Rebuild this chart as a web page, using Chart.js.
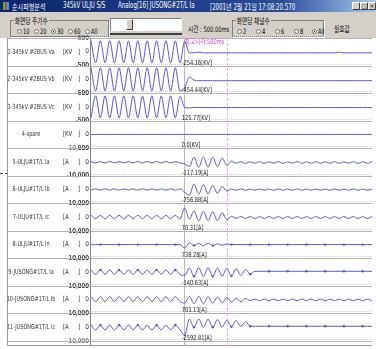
<!DOCTYPE html>
<html>
<head>
<meta charset="utf-8">
<script src="https://cdn.jsdelivr.net/npm/chart.js@4.4.1/dist/chart.umd.min.js"></script>
<style>
  body { margin:0; width:376px; height:349px; overflow:hidden; background:#fff; position:relative;
         font-family:"DejaVu Sans Condensed","Noto Sans CJK KR",sans-serif; }
  .n { transform:scaleX(0.76); transform-origin:0 50%; }
  #title { position:absolute; left:0; top:0; width:376px; height:12px;
           background:linear-gradient(90deg,#0a246a 0%,#2a4c9c 75%,#a6caf0 100%); color:#fff; font-size:8px; }
  #title span { position:absolute; top:1px; white-space:nowrap; }
  .ico { position:absolute; left:3px; top:2px; width:6px; height:8px;
         background:linear-gradient(90deg,#2c2 0 33%,#e33 33% 66%,#39f 66%); }
  .btn { position:absolute; top:2px; width:8px; height:8px; background:#d4d0c8; color:#000;
         border:1px solid; border-color:#fff #404040 #404040 #fff; box-sizing:border-box;
         font-size:6px; line-height:6px; text-align:center; }
  #ctrl { position:absolute; left:0; top:12px; width:376px; height:26px; background:#d4d0c8; font-size:7.5px; color:#000; }
  #ctrl span { position:absolute; white-space:nowrap; }
  .grp { position:absolute; top:8px; height:15px; border:1px solid #808080; box-shadow:1px 1px 0 #fff; }
  .leg { background:#d4d0c8; padding:0 1px; top:3px; }
  .r { position:absolute; top:17px; width:5px; height:5px; border-radius:50%; background:#fff;
       border:1px solid #707070; box-sizing:border-box; }
  .r.on::after { content:""; position:absolute; left:1px; top:1px; width:1px; height:1px; background:#000; }
  .slide { position:absolute; left:110px; top:6px; width:72px; height:13px; background:#fff;
           border:1px solid; border-color:#808080 #fff #fff #808080; box-sizing:border-box; }
  .thumb { position:absolute; left:126px; top:7px; width:7px; height:11px; background:#d4d0c8;
           border:1px solid; border-color:#fff #404040 #404040 #fff; box-sizing:border-box; }
  .groove { position:absolute; left:110px; top:21px; width:72px; height:2px; background:#404040; }
  #wrap { position:absolute; left:0; top:30px; width:376px; height:318px; }
  .tick { position:absolute; left:0; top:173px; width:8px; border-top:1px dashed #444; }
</style>
</head>
<body>
<div id="title">
  <div class="ico"></div>
  <span class="n" style="left:12px">순시파형분석</span>
  <span class="n" style="left:63px">345kV ULJU S/S</span>
  <span class="n" style="left:118px">Analog[16] JUSONG#2T/L Ia</span>
  <span class="n" style="left:210px">[2001년 2월 21일 17:08:20.570</span>
  <div class="btn" style="left:352px">_</div>
  <div class="btn" style="left:360px">□</div>
  <div class="btn" style="left:368px">×</div>
</div>
<div id="ctrl">
  <div class="grp" style="left:10px;width:97px"></div>
  <span class="leg n" style="left:14px">화면당 주기수</span>
  <div class="r" style="left:17px"></div><span class="n" style="left:23px;top:15px">10</span>
  <div class="r" style="left:34px"></div><span class="n" style="left:40px;top:15px">20</span>
  <div class="r on" style="left:51px"></div><span class="n" style="left:57px;top:15px">30</span>
  <div class="r" style="left:68px"></div><span class="n" style="left:74px;top:15px">60</span>
  <div class="r" style="left:85px"></div><span class="n" style="left:91px;top:15px">All</span>
  <div class="slide"></div><div class="thumb"></div><div class="groove"></div>
  <span class="n" style="left:188px;top:11px">시간 : 500.00ms</span>
  <div class="grp" style="left:232px;width:90px"></div>
  <span class="leg n" style="left:236px">화면당 채널수</span>
  <div class="r" style="left:237px"></div><span class="n" style="left:243px;top:15px">2</span>
  <div class="r" style="left:256px"></div><span class="n" style="left:262px;top:15px">4</span>
  <div class="r" style="left:275px"></div><span class="n" style="left:281px;top:15px">6</span>
  <div class="r" style="left:294px"></div><span class="n" style="left:300px;top:15px">8</span>
  <div class="r on" style="left:312px"></div><span class="n" style="left:318px;top:15px">All</span>
  <span class="n" style="left:334px;top:11px">실효값</span>
</div>
<div class="tick"></div>
<div id="wrap"><canvas id="c" width="376" height="318"></canvas></div>

<script>
// time of each sample, ms (half-cycle steps of a 60 Hz signal)
const TIME = [0, 8.3, 16.7, 25, 33.3, 41.7, 50, 58.3, 66.7, 75,
  83.3, 91.7, 100, 108.3, 116.7, 125, 133.3, 141.7, 150, 158.3,
  166.7, 175, 183.3, 191.7, 200, 208.3, 216.7, 225, 233.3, 241.7,
  250, 258.3, 266.7, 275, 283.3, 291.7, 300, 308.3, 316.7, 325,
  333.3, 341.7, 350, 358.3, 366.7, 375, 383.3, 391.7, 400, 408.3,
  416.7, 425, 433.3, 441.7, 450, 458.3, 466.7, 475, 483.3, 491.7,
  500];

const NAMES = ["1-345kV #2BUS Va", "2-345kV #2BUS Vb", "3-345kV #2BUS Vc", "4-spare",
  "5-ULJU#1T/L Ia", "6-ULJU#1T/L Ib", "7-ULJU#1T/L Ic", "8-ULJU#1T/L In",
  "9-JUSONG#1T/L Ia", "10-JUSONG#1T/L Ib", "11-JUSONG#1T/L Ic"];
const UNITS  = ["KV", "KV", "KV", "KV", "A", "A", "A", "A", "A", "A", "A"];
const RANGES = [500, 500, 500, 500, 10000, 10000, 10000, 10000, 10000, 10000, 10000];
const CURSOR_VALUES = ["-254.16", "-454.44", "125.77", "0.0", "-117.19", "-756.88",
  "70.31", "738.28", "-140.63", "703.13", "-2592.81"];
const FAULT_MS = 165;   // grey cursor
const PEAK_MS  = 242;   // 최고시각 cursor
const PEAK_TEXT = "최고시각:500ms";

const VA = [400, -400, 400, -400, 400, -400, 400, -400, 400, -400,
  400, -400, 400, -400, 400, -400, 400, -400, 400, -400,
  380, -40, -40, -10, -40, -40, -40, -40, -40, -40,
  -40, -40, -40, -40, -40, -40, -40, -40, -40, -40,
  -40, -40, -40, -40, -40, -40, -40, -40, -40, -40,
  -40, -40, -40, -15, -40, -40, -40, -40, -40, -40,
  -40];
const VB = [420, -420, 420, -420, 420, -420, 420, -420, 420, -420,
  420, -420, 420, -420, 420, -420, 420, -420, 420, -420,
  -300, 80, -30, -50, -50, -50, -50, -50, -50, -50,
  -50, -50, -50, -50, -50, -50, -50, -50, -50, -50,
  -50, -50, -50, -50, -50, -50, -50, -50, -50, -50,
  -50, -50, -50, -50, -50, -50, -50, -50, -50, -50,
  -50];
const VC = [-400, 400, -400, 400, -400, 400, -400, 400, -400, 400,
  -400, 400, -400, 400, -400, 400, -400, 400, -400, 380,
  -20, -40, -20, -25, -25, -25, -25, -25, -25, -25,
  -25, -25, -25, -25, -25, -25, -25, -25, -25, -25,
  -25, -25, -25, -25, -25, -25, -25, -25, -25, -25,
  -25, -25, -25, -25, -25, -25, -25, -25, -25, -25,
  -25];
const SPARE = [0, 0, 0, 0, 0, 0, 0, 0, 0, 0,
  0, 0, 0, 0, 0, 0, 0, 0, 0, 0,
  0, 0, 0, 0, 0, 0, 0, 0, 0, 0,
  0, 0, 0, 0, 0, 0, 0, 0, 0, 0,
  0, 0, 0, 0, 0, 0, 0, 0, 0, 0,
  0, 0, 0, 0, 0, 0, 0, 0, 0, 0,
  0];
const ULJU_IA = [300, -700, 300, -700, 300, -700, 300, -700, 300, -700,
  300, -700, 300, -700, 300, -700, 300, -700, 300, -700,
  -1500, -3200, 3400, -3800, 3600, -3800, 3400, -3500, 2800, -2500,
  600, -900, 200, -1000, 100, -900, 200, -1000, 100, -900,
  200, -1000, 100, -900, 200, -1000, 100, -900, 200, -1000,
  100, -900, 200, -1000, 100, -900, 200, -1000, 100, -900,
  200];
const ULJU_IB = [-500, 500, -500, 500, -500, 500, -500, 500, -500, 500,
  -500, 500, -500, 500, -500, 500, -500, 500, -500, 500,
  -2000, -4200, 4000, -3300, 3500, -3200, 3000, -2800, 2200, -1200,
  400, -600, 400, -600, 400, -600, 400, -600, 400, -600,
  400, -600, 400, -600, 400, -600, 400, -600, 400, -600,
  400, -600, 400, -600, 400, -600, 400, -600, 400, -600,
  400];
const ULJU_IC = [1300, -1300, 1300, -1300, 1300, -1300, 1300, -1300, 1300, -1300,
  1300, -1300, 1300, -1300, 1300, -1300, 1300, -1300, 1300, -1300,
  6500, -1500, 4500, -2800, 4200, -2600, 3800, -2600, 3200, -2000,
  500, -1000, 300, -1000, 300, -1000, 300, -1000, 300, -1000,
  300, -1000, 300, -1000, 300, -1000, 300, -1000, 300, -1000,
  300, -1000, 300, -1000, 300, -1000, 300, -1000, 300, -1000,
  300];
const ULJU_IN = [0, 0, 0, 0, 0, 0, 0, 0, 0, 0,
  0, 0, 0, 0, 0, 0, 0, 0, 0, 0,
  -2500, 1200, -700, 800, -800, 900, -700, 600, -500, 400,
  0, 0, 0, 0, 0, 0, 0, 0, 0, 0,
  0, 0, 0, 0, 0, 0, 0, 0, 0, 0,
  0, 0, 0, 0, 0, 0, 0, 0, 0, 0,
  0];
const JUSONG_IA = [1600, -1600, 1600, -1600, 1600, -1600, 1600, -1600, 1600, -1600,
  1600, -1600, 1600, -1600, 1600, -1600, 1600, -1600, 1600, -1600,
  -2500, 3000, -3000, 3200, -3200, 3200, -3200, 3000, -3000, 2800,
  -2800, 2500, -2400, 2000, -1500, 600, 600, 600, 600, 600,
  600, 600, 600, 600, 600, 600, 600, 600, 600, 600,
  600, 600, 600, 600, 600, 600, 600, 600, 600, 600,
  600];
const JUSONG_IB = [2200, -1400, 2200, -1400, 2200, -1400, 2200, -1400, 2200, -1400,
  2200, -1400, 2200, -1400, 2200, -1400, 2200, -1400, 2200, -1400,
  -2500, 2300, -3000, 2400, -3000, 2200, -2600, 2000, -2200, 1600,
  -1800, 1200, -1500, 900, -600, 400, -700, 400, -700, 400,
  -700, 400, -700, 400, -700, 400, -700, 400, -700, 400,
  -700, 400, -700, 400, -700, 400, -700, 400, -700, 400,
  -700];
const JUSONG_IC = [1600, -2000, 1600, -2000, 1600, -2000, 1600, -2000, 1600, -2000,
  1600, -2000, 1600, -2000, 1600, -2000, 1600, -2000, 1600, -2000,
  -6000, 5800, 0, 6000, -200, 5800, 0, 5500, 200, 5200,
  400, 4800, 600, 4000, 700, 700, 700, 700, 700, 700,
  700, 700, 700, 700, 700, 700, 700, 700, 700, 700,
  700, 700, 700, 700, 700, 700, 700, 700, 700, 700,
  700];

const SERIES = [VA, VB, VC, SPARE, ULJU_IA, ULJU_IB, ULJU_IC, ULJU_IN, JUSONG_IA, JUSONG_IB, JUSONG_IC];
const SAMPLE_DOTS = [false, false, false, false, false, false, false, true, true, false, true];

const FONT  = '"DejaVu Sans Condensed", "Noto Sans CJK KR", sans-serif';
const WAVE  = "#5656ec";
const LABEL_W = 91;

const scales = { x: { type: "linear", min: 0, max: 500, display: false } };
SERIES.forEach((s, k) => {
  const r = RANGES[k];
  scales["y" + k] = {
    type: "linear",
    position: "left",
    stack: "rows",
    stackWeight: 1,
    weight: SERIES.length - k,
    min: -r,
    max: r,
    afterBuildTicks: (ax) => { ax.ticks = [-r, 0, r].map((v) => ({ value: v })); },
    afterFit: (ax) => { ax.width = LABEL_W; },
    grid: { display: false, drawTicks: false },
    border: { display: false },
    ticks: {
      autoSkip: false,
      padding: 2,
      color: "#333",
      font: { family: FONT, size: 6.5 },
      callback: (v) => v.toLocaleString("en-US"),
    },
  };
});

const datasets = SERIES.map((s, k) => ({
  data: s.map((v, i) => ({ x: TIME[i], y: v })),
  yAxisID: "y" + k,
  borderColor: WAVE,
  backgroundColor: WAVE,
  borderWidth: 1,
  cubicInterpolationMode: "monotone",
  pointRadius: (c) => (SAMPLE_DOTS[k] && c.dataIndex % 4 === 2 ? 1.2 : 0),
  pointBorderWidth: 0,
}));

// squeezed text, the screen font is very narrow
function narrow(ctx, txt, x, y, align, sx) {
  ctx.save();
  ctx.translate(x, y);
  ctx.scale(sx, 1);
  ctx.textAlign = align;
  ctx.fillText(txt, 0, 0);
  ctx.restore();
}

// row frame, cursors and the text in the label column
const frame = {
  id: "frame",
  beforeDatasetsDraw(chart) {
    const { ctx, chartArea: a, scales: sc } = chart;
    ctx.save();
    ctx.lineWidth = 1;
    const edges = new Set();
    SERIES.forEach((s, k) => {
      edges.add(Math.round(sc["y" + k].top));
      edges.add(Math.round(sc["y" + k].bottom));
    });
    edges.forEach((y) => {
      ctx.strokeStyle = "#b4b4b4";
      ctx.setLineDash([]);
      ctx.beginPath(); ctx.moveTo(7, y + 0.5); ctx.lineTo(a.right, y + 0.5); ctx.stroke();
      ctx.strokeStyle = "#d0d0d0";
      ctx.setLineDash([1, 1]);
      ctx.beginPath(); ctx.moveTo(a.left, y - 1.5); ctx.lineTo(a.right, y - 1.5); ctx.stroke();
    });
    ctx.setLineDash([]);
    ctx.strokeStyle = "#9a9a9a";
    ctx.beginPath(); ctx.moveTo(7.5, a.top); ctx.lineTo(7.5, a.bottom + 5); ctx.stroke();
    ctx.beginPath(); ctx.moveTo(7, a.bottom + 4.5); ctx.lineTo(a.right, a.bottom + 4.5); ctx.stroke();
    ctx.strokeStyle = "#888";
    ctx.beginPath(); ctx.moveTo(a.left - 0.5, a.top); ctx.lineTo(a.left - 0.5, a.bottom + 5); ctx.stroke();
    const fx = Math.round(sc.x.getPixelForValue(FAULT_MS)) + 0.5;
    ctx.strokeStyle = "#b8b8b8";
    ctx.beginPath(); ctx.moveTo(fx, a.top); ctx.lineTo(fx, a.bottom + 5); ctx.stroke();
    const px = Math.round(sc.x.getPixelForValue(PEAK_MS)) + 0.5;
    ctx.strokeStyle = "#f2a8f2";
    ctx.setLineDash([3, 2]);
    ctx.beginPath(); ctx.moveTo(px, a.top); ctx.lineTo(px, a.bottom + 5); ctx.stroke();
    ctx.restore();
  },
  afterDatasetsDraw(chart) {
    const { ctx, scales: sc } = chart;
    const fx = sc.x.getPixelForValue(FAULT_MS);
    ctx.save();
    ctx.font = "7px " + FONT;
    SERIES.forEach((s, k) => {
      const ys = sc["y" + k];
      const y0 = ys.getPixelForValue(0);
      ctx.fillStyle = "#333";
      ctx.textBaseline = "middle";
      narrow(ctx, NAMES[k], 31, y0, "center", 0.78);
      narrow(ctx, "[" + UNITS[k], 63, y0, "left", 0.85);
      narrow(ctx, "]", 78, y0, "left", 0.85);
      ctx.fillStyle = "#222";
      ctx.textBaseline = "alphabetic";
      narrow(ctx, CURSOR_VALUES[k] + "[" + UNITS[k] + "]", fx - 2, ys.bottom - 1, "left", 0.8);
    });
    ctx.fillStyle = "#d040d0";
    ctx.textBaseline = "top";
    narrow(ctx, PEAK_TEXT, fx + 1, sc.y0.top + 1, "left", 0.8);
    ctx.restore();
  },
};

new Chart(document.getElementById("c"), {
  type: "line",
  data: { datasets },
  options: {
    responsive: false,
    animation: false,
    devicePixelRatio: 1,
    layout: { padding: { top: 8, bottom: 7, left: 0, right: 4 } },
    plugins: { legend: { display: false }, tooltip: { enabled: false } },
    scales,
  },
  plugins: [frame],
});
</script>
</body>
</html>
